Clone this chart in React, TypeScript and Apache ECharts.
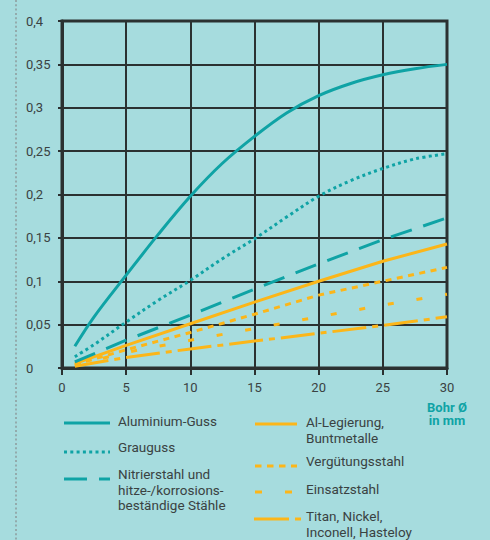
import React, { useEffect, useRef } from "react";
import * as echarts from "echarts";

// ---- data ----
const xFine = [1, 2.5, 5, 7.5, 10, 12.5, 15, 17.5, 20, 22.5, 25, 27.5, 30];
const aluminiumGuss = [0.025, 0.059, 0.107, 0.154, 0.198, 0.236, 0.267, 0.294, 0.314, 0.328, 0.338, 0.345, 0.35];
const grauguss = [0.013, 0.027, 0.053, 0.078, 0.101, 0.126, 0.149, 0.174, 0.198, 0.216, 0.23, 0.241, 0.247];

const xCoarse = [1, 5, 10, 15, 20, 25, 30];
const nitrierstahl = [0.007, 0.032, 0.061, 0.091, 0.12, 0.148, 0.173];
const alLegierung = [0.005, 0.026, 0.051, 0.076, 0.1, 0.123, 0.143];
const verguetungsstahl = [0.004, 0.021, 0.041, 0.062, 0.084, 0.1, 0.116];
const einsatzstahl = [0.003, 0.018, 0.032, 0.0455, 0.059, 0.0725, 0.085];
const titan = [0.002, 0.012, 0.022, 0.031, 0.04, 0.049, 0.059];

const legendLabels = [
  "Aluminium-Guss",
  "Grauguss",
  "Nitrierstahl und\nhitze-/korrosions-\nbeständige Stähle",
  "Al-Legierung,\nBuntmetalle",
  "Vergütungsstahl",
  "Einsatzstahl",
  "Titan, Nickel,\nInconell, Hasteloy",
];
const axisName = "Bohr Ø\nin mm";

const X_MIN = 0, X_MAX = 30, X_STEP = 5;
const Y_MIN = 0, Y_MAX = 0.4, Y_STEP = 0.05;

// ---- styles ----
const TEAL = "#0fa3a5";
const ORANGE = "#fcb619";
const BG = "#a6dcde";
const DARK = "#2b3131";
const TEXT = "#3a4242";
const FONT = "Roboto, 'DejaVu Sans', sans-serif";

const styles = [
  { color: TEAL, dash: "solid" as any, legendDash: null as number[] | null },
  { color: TEAL, dash: [3, 3.3], legendDash: [3, 3.3] },
  { color: TEAL, dash: [22, 12], legendDash: [23, 12] },
  { color: ORANGE, dash: "solid" as any, legendDash: null },
  { color: ORANGE, dash: [6, 5.5], legendDash: [6.5, 5.5] },
  { color: ORANGE, dash: [6, 23], legendDash: [7, 23] },
  { color: ORANGE, dash: [34, 6, 6, 6], legendDash: [35, 6, 6, 6] },
];

const pairs = (xs: number[], ys: number[]) => xs.map((x, i) => [x, ys[i]]);

export default function App() {
  const ref = useRef<HTMLDivElement>(null);
  useEffect(() => {
    if (!ref.current) return;
    const chart = echarts.init(ref.current, null, { renderer: "svg" });

    const seriesData = [
      { data: pairs(xFine, aluminiumGuss), smooth: 0.35 },
      { data: pairs(xFine, grauguss), smooth: 0.35 },
      { data: pairs(xCoarse, nitrierstahl), smooth: false },
      { data: pairs(xCoarse, alLegierung), smooth: false },
      { data: pairs(xCoarse, verguetungsstahl), smooth: false },
      { data: pairs(xCoarse, einsatzstahl), smooth: false },
      { data: pairs(xCoarse, titan), smooth: false },
    ];

    const series = seriesData.map((s, i) => ({
      type: "line",
      name: legendLabels[i],
      data: s.data,
      smooth: s.smooth,
      showSymbol: false,
      symbol: "none",
      z: 10 - i,
      lineStyle: { color: styles[i].color, width: 3, type: styles[i].dash, cap: "butt" },
    }));

    // legend layout (positions only)
    const legendPos = [
      { lx1: 64, lx2: 110, ly: 423, tx: 118, ty: 413.5 },
      { lx1: 64, lx2: 110, ly: 452, tx: 118, ty: 439.5 },
      { lx1: 64, lx2: 110, ly: 479, tx: 118, ty: 466.5 },
      { lx1: 255, lx2: 297, ly: 424, tx: 306, ty: 414.5 },
      { lx1: 255, lx2: 297, ly: 466, tx: 306, ty: 453.5 },
      { lx1: 255, lx2: 297, ly: 492, tx: 306, ty: 481.5 },
      { lx1: 254, lx2: 301, ly: 519, tx: 306, ty: 508.5 },
    ];

    const graphic: any[] = [
      {
        type: "line",
        shape: { x1: 16, y1: 0, x2: 16, y2: 540 },
        style: { stroke: "#8d9b9c", lineWidth: 1.5, lineDash: [2, 2.3] },
        silent: true,
      },
      {
        type: "text",
        x: 447,
        y: 400.5,
        style: {
          text: axisName,
          fill: TEAL,
          font: `bold 13px ${FONT}`,
          textAlign: "center",
          textVerticalAlign: "top",
          lineHeight: 13.5,
        },
      },
    ];
    legendPos.forEach((p, i) => {
      graphic.push({
        type: "line",
        shape: { x1: p.lx1, y1: p.ly, x2: p.lx2, y2: p.ly },
        style: {
          stroke: styles[i].color,
          lineWidth: 3,
          lineDash: styles[i].legendDash || undefined,
          lineCap: "butt",
        },
      });
      graphic.push({
        type: "text",
        x: p.tx,
        y: p.ty,
        style: {
          text: legendLabels[i],
          fill: TEXT,
          font: `13.5px ${FONT}`,
          textAlign: "left",
          textVerticalAlign: "top",
          lineHeight: 15.5,
        },
      });
    });

    const fmt = (v: number) => String(+v.toFixed(2)).replace(".", ",");

    chart.setOption({
      animation: false,
      backgroundColor: BG,
      grid: {
        left: 62,
        right: 43,
        top: 21,
        bottom: 172,
        show: true,
        borderColor: DARK,
        borderWidth: 3,
        backgroundColor: "transparent",
      },
      xAxis: {
        type: "value",
        min: X_MIN,
        max: X_MAX,
        interval: X_STEP,
        axisLine: { show: true, lineStyle: { color: DARK, width: 3 } },
        axisTick: { show: true, length: 7, lineStyle: { color: DARK, width: 2 } },
        splitLine: { show: true, lineStyle: { color: DARK, width: 2 } },
        axisLabel: { color: TEXT, fontSize: 13, fontFamily: FONT, margin: 13, formatter: fmt },
      },
      yAxis: {
        type: "value",
        min: Y_MIN,
        max: Y_MAX,
        interval: Y_STEP,
        axisLine: { show: true, lineStyle: { color: DARK, width: 3 } },
        axisTick: { show: true, length: 4, lineStyle: { color: DARK, width: 2 } },
        splitLine: { show: true, lineStyle: { color: DARK, width: 2 } },
        axisLabel: {
          color: TEXT,
          fontSize: 13,
          fontFamily: FONT,
          margin: 36,
          align: "left",
          padding: [0, 0, 4, 0],
          formatter: fmt,
        },
      },
      series,
      graphic,
    });
    return () => chart.dispose();
  }, []);

  return (
    <div
      ref={ref}
      style={{ position: "absolute", left: 0, top: 0, width: 490, height: 540, background: BG }}
    />
  );
}
